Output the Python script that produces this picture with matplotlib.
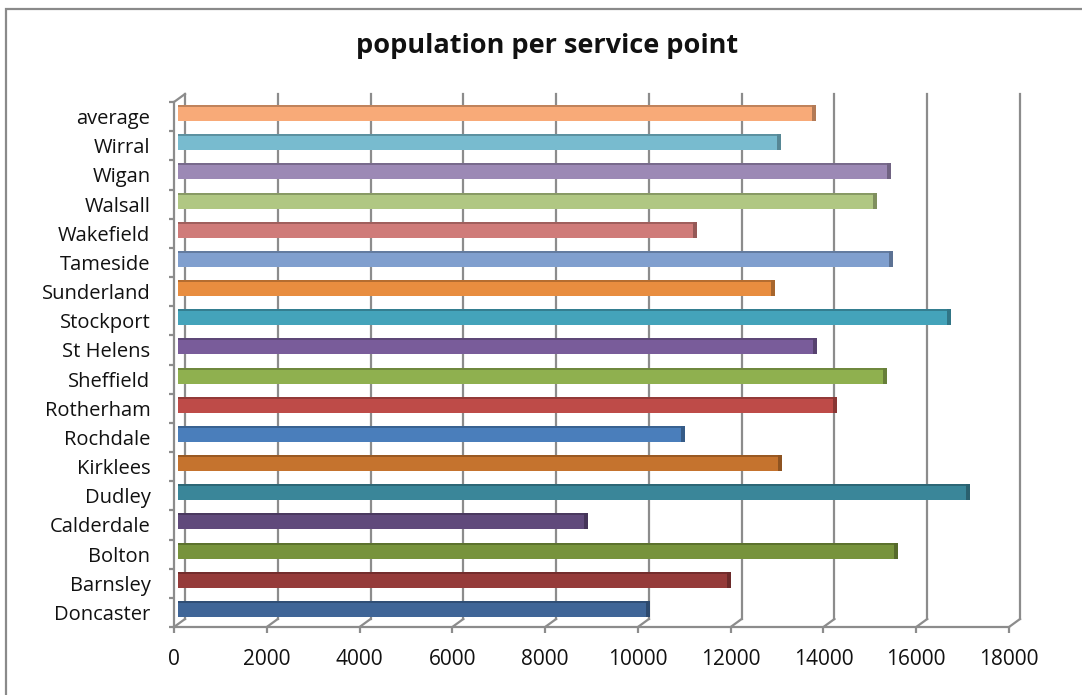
import matplotlib.pyplot as plt
import matplotlib.patches as mpatches
from matplotlib.transforms import Affine2D, IdentityTransform
from matplotlib.colors import to_rgb
import numpy as np

# data, bottom to top
places = ["Doncaster", "Barnsley", "Bolton", "Calderdale", "Dudley", "Kirklees",
          "Rochdale", "Rotherham", "Sheffield", "St Helens", "Stockport",
          "Sunderland", "Tameside", "Wakefield", "Walsall", "Wigan", "Wirral",
          "average"]
pop_per_point = [10090, 11830, 15430, 8750, 16990, 12930,
                 10840, 14120, 15200, 13690, 16580,
                 12780, 15330, 11100, 14980, 15280, 12910,
                 13670]
bar_colors = ["#3F6597", "#953B3A", "#77933C", "#604A7B", "#3A8699", "#C5732E",
              "#4A7EBB", "#BE4B48", "#8FB04F", "#795C9A", "#44A3BA",
              "#E88D3F", "#809FCE", "#CF7B79", "#B0C783", "#9C89B5", "#78BBCF",
              "#F8AA78"]
x_ticks = np.arange(0, 18001, 2000)

plt.rcParams['font.family'] = ['Open Sans', 'DejaVu Sans']

fig = plt.figure(figsize=(10.82, 6.95), dpi=100)

# chart area frame
fig.patches.append(mpatches.Rectangle((6 / 1082, -0.02), 1.1, (695 - 9) / 695 + 0.02,
                                      transform=fig.transFigure, fill=False,
                                      edgecolor="#8a8a8a", linewidth=1.6))

fig.text(0.506, 1 - 46 / 695, "population per service point", ha="center", va="center",
         fontsize=19.5, fontweight="bold", color="#111111")

ax = fig.add_axes([174 / 1082, (695 - 627) / 695, (1009 - 174) / 1082, (627 - 102) / 695])
ax.set_xlim(0, 18000)
ax.set_ylim(-0.5, len(places) - 0.5)
ax.patch.set_visible(False)

grid_col = "#8c8c8c"
depth = Affine2D().translate(11, 8)       # back wall offset (pixels)
mid = Affine2D().translate(4, 3.5)        # bar depth offset (pixels)

# back wall gridlines and floor diagonals
for v in x_ticks:
    ax.plot([v, v], [-0.5, len(places) - 0.5], color=grid_col, lw=1.6,
            transform=ax.transData + depth, zorder=1, clip_on=False)
    p0 = ax.transData.transform((v, -0.5))
    ax.plot([p0[0], p0[0] + 11], [p0[1], p0[1] + 8], color=grid_col, lw=1.6,
            transform=IdentityTransform(), zorder=1, clip_on=False)
# top of the side wall
p0 = ax.transData.transform((0, len(places) - 0.5))
ax.plot([p0[0], p0[0] + 11], [p0[1], p0[1] + 8], color=grid_col, lw=1.6,
        transform=IdentityTransform(), zorder=1, clip_on=False)

# bars with darker top face and end cap
y = np.arange(len(places))
h = 0.55
dark = [tuple(c * 0.72 for c in to_rgb(col)) for col in bar_colors]
ax.barh(y, pop_per_point, height=h, color=bar_colors, transform=ax.transData + mid,
        zorder=3, clip_on=False)
ax.barh(y + h / 2 - 0.035, pop_per_point, height=0.07, color=dark, alpha=0.8,
        transform=ax.transData + mid, zorder=4, clip_on=False)
ax.barh(y, [85] * len(places), left=pop_per_point, height=h, color=dark,
        transform=ax.transData + mid, zorder=4, clip_on=False)

# axes
for s in ["top", "right"]:
    ax.spines[s].set_visible(False)
for s in ["left", "bottom"]:
    ax.spines[s].set_color(grid_col)
    ax.spines[s].set_linewidth(1.6)

ax.set_xticks(x_ticks)
ax.set_xticklabels([str(v) for v in x_ticks], fontsize=15, color="#111111")
ax.tick_params(axis="x", direction="out", length=4.5, width=1.6, color=grid_col, pad=11)

ax.set_yticks(y)
ax.set_yticklabels(places, fontsize=14.5, color="#111111")
ax.set_yticks(np.arange(-0.5, len(places), 1.0), minor=True)
ax.tick_params(axis="y", which="major", length=0, pad=17)
ax.tick_params(axis="y", which="minor", direction="out", length=3.6, width=1.6, color=grid_col)

fig.savefig("out.png", dpi=100)
